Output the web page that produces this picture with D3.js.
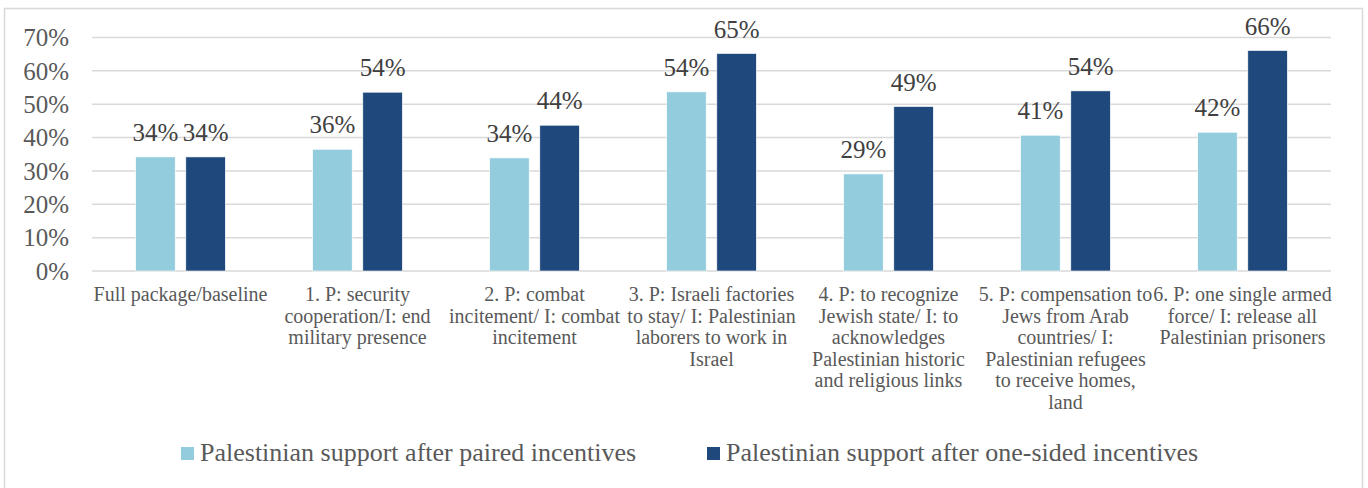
<!DOCTYPE html>
<html>
<head>
<meta charset="utf-8">
<script src="https://cdn.jsdelivr.net/npm/d3@7/dist/d3.min.js"></script>
<style>
  html, body { margin: 0; padding: 0; background: #fff; }
  svg { display: block; }
  text { font-family: "Liberation Serif", "Times New Roman", serif; }
</style>
</head>
<body>
<svg id="chart" width="1368" height="488"></svg>
<script>
const categories = [
  "Full package/baseline",
  "1. P: security\ncooperation/I: end\nmilitary presence",
  "2. P: combat\nincitement/ I: combat\nincitement",
  "3. P: Israeli factories\nto stay/ I: Palestinian\nlaborers to work in\nIsrael",
  "4. P: to recognize\nJewish state/ I: to\nacknowledges\nPalestinian historic\nand religious links",
  "5. P: compensation to\nJews from Arab\ncountries/ I:\nPalestinian refugees\nto receive homes,\nland",
  "6. P: one single armed\nforce/ I: release all\nPalestinian prisoners"
];
const seriesNames = [
  "Palestinian support after paired incentives",
  "Palestinian support after one-sided incentives"
];
const pairedValues = [0.342, 0.365, 0.339, 0.537, 0.291, 0.407, 0.416];
const oneSidedValues = [0.342, 0.536, 0.437, 0.652, 0.493, 0.540, 0.661];
const dataLabels = [
  ["34%", "36%", "34%", "54%", "29%", "41%", "42%"],
  ["34%", "54%", "44%", "65%", "49%", "54%", "66%"]
];
const yTicks = [0, 0.1, 0.2, 0.3, 0.4, 0.5, 0.6, 0.7];
const colors = ["#93CDDD", "#1F497D"];

(function () {
const svg = d3.select("#chart");

// outer border
svg.append("rect")
  .attr("x", 4.5).attr("y", 8.5)
  .attr("width", 1358).attr("height", 500)
  .attr("fill", "none").attr("stroke", "#d9d9d9").attr("stroke-width", 1.5);

const plotLeft = 92, plotRight = 1331, plotTop = 37.5, plotBottom = 271;

const y = d3.scaleLinear().domain([0, 0.7]).range([plotBottom, plotTop]);
const x0 = d3.scaleBand().domain(categories).range([plotLeft, plotRight]).padding(0);
const x1 = d3.scaleBand().domain([0, 1]).range([43.7, 133.3]).paddingInner(0.212);

// gridlines
svg.append("g").selectAll("line").data(yTicks).join("line")
  .attr("x1", plotLeft).attr("x2", plotRight)
  .attr("y1", d => y(d)).attr("y2", d => y(d))
  .attr("stroke", "#d9d9d9").attr("stroke-width", 1.5);

// y tick labels
svg.append("g").selectAll("text").data(yTicks).join("text")
  .attr("x", 69).attr("y", d => y(d)).attr("dy", "0.35em")
  .attr("text-anchor", "end")
  .attr("font-size", 25).attr("fill", "#595959")
  .text(d => d3.format(".0%")(d));

const series = [pairedValues, oneSidedValues];

// bars
series.forEach((vals, si) => {
  const g = svg.append("g");
  g.selectAll("rect").data(vals).join("rect")
    .attr("x", (d, i) => x0(categories[i]) + x1(si))
    .attr("width", x1.bandwidth())
    .attr("y", d => y(d))
    .attr("height", d => y(0) - y(d))
    .attr("fill", colors[si])
    .attr("stroke", "#ffffff").attr("stroke-width", 0.6);
  g.selectAll("text").data(vals).join("text")
    .attr("x", (d, i) => x0(categories[i]) + x1(si) + x1.bandwidth() / 2)
    .attr("y", d => y(d) - 16)
    .attr("text-anchor", "middle")
    .attr("font-size", 25).attr("fill", "#404040")
    .text((d, i) => dataLabels[si][i]);
});

// category labels
const cat = svg.append("g").selectAll("text").data(categories).join("text")
  .attr("x", d => x0(d) + x0.bandwidth() / 2)
  .attr("y", 301)
  .attr("text-anchor", "middle")
  .attr("font-size", 20).attr("fill", "#595959");
cat.each(function(d) {
  const t = d3.select(this);
  d.split("\n").forEach((line, i) => {
    t.append("tspan")
      .attr("x", x0(d) + x0.bandwidth() / 2)
      .attr("dy", i === 0 ? 0 : 21.6)
      .text(line);
  });
});

// legend
const legendX = [181, 707];
const legend = svg.append("g").selectAll("g").data(seriesNames).join("g")
  .attr("transform", (d, i) => `translate(${legendX[i]},447)`);
legend.append("rect")
  .attr("width", 13).attr("height", 13)
  .attr("fill", (d, i) => colors[i]);
legend.append("text")
  .attr("x", 19).attr("y", 14)
  .attr("font-size", 26).attr("fill", "#595959")
  .text(d => d);
})();
</script>
</body>
</html>
